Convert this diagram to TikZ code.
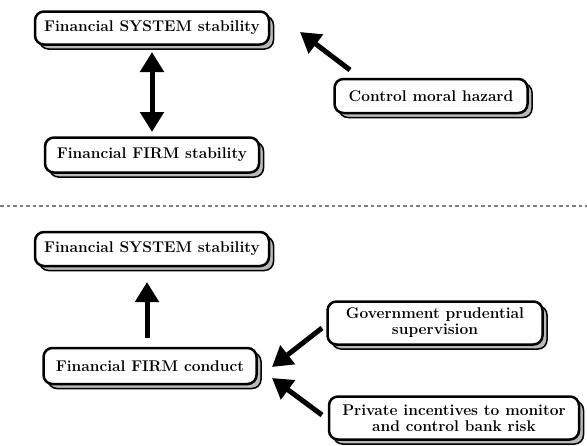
\documentclass[tikz,border=0pt]{standalone}
\usepackage{tikz}
\usetikzlibrary{arrows.meta,shadows}

\begin{document}
\begin{tikzpicture}
        [x=1pt,y=-1pt,
        every node/.style={draw,shape=rectangle,rounded corners=9pt,line width=2.5pt,fill=white,align=center,inner sep=2pt,font=\bfseries\fontsize{15.5}{16}\selectfont,
          general shadow={fill=gray!55,draw=black,line width=1.5pt,shadow xshift=4.5pt,shadow yshift=-4.5pt}},
        bigarrow/.style={line width=5pt,-{Triangle[length=20pt,width=23pt]}},
        bothways/.style={line width=5pt,{Triangle[length=20pt,width=23pt]}-{Triangle[length=20pt,width=23pt]}}]

        \useasboundingbox (0,0) rectangle (587,445);

        \node[minimum width=234pt,minimum height=33pt] (sys1) at (152,28) {Financial SYSTEM stability};
        \node[minimum width=193pt,minimum height=34pt] (moral) at (431,96) {Control moral hazard};
        \node[minimum width=214pt,minimum height=35pt] (firm1) at (152,155) {Financial FIRM stability};
        \node[minimum width=234pt,minimum height=34pt] (sys2) at (152,249) {Financial SYSTEM stability};
        \node[minimum width=213pt,minimum height=36pt] (firm2) at (150,366) {Financial FIRM conduct};
        \node[minimum width=215pt,minimum height=43pt] (gov) at (435,323) {Government prudential\\supervision};
        \node[minimum width=250pt,minimum height=43pt] (priv) at (454,418) {Private incentives to monitor\\and control bank risk};

        \coordinate (d1) at (0,206);
        \coordinate (d2) at (587,206);
        \coordinate (s1) at (152,52);
        \coordinate (f1) at (152,132);
        \coordinate (m1) at (350,70);
        \coordinate (m2) at (300,32);
        \coordinate (f2) at (147,338);
        \coordinate (s2) at (147,282);
        \coordinate (g1) at (322,328);
        \coordinate (g2) at (272,367);
        \coordinate (p1) at (322,415);
        \coordinate (p2) at (272,378);

        \draw[gray,line width=1.2pt,dash pattern=on 3.5pt off 3pt] (d1) -- (d2);
        \draw[bothways] (s1) -- (f1);
        \draw[bigarrow] (m1) -- (m2);
        \draw[bigarrow] (f2) -- (s2);
        \draw[bigarrow] (g1) -- (g2);
        \draw[bigarrow] (p1) -- (p2);

      \end{tikzpicture}
\end{document}
